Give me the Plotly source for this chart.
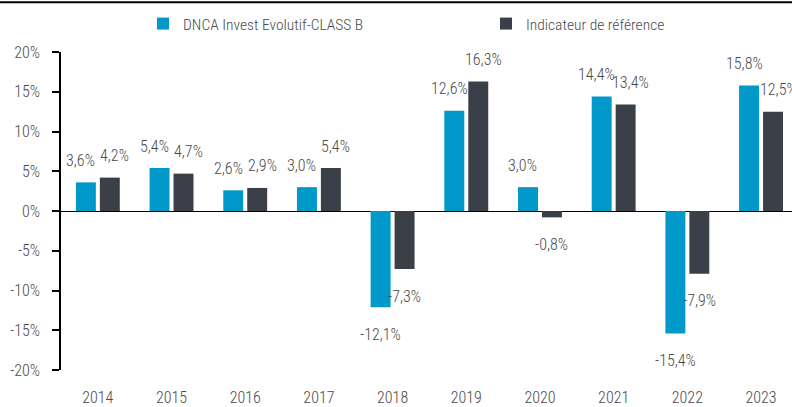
import plotly.graph_objects as go

years = ["2014", "2015", "2016", "2017", "2018", "2019", "2020", "2021", "2022", "2023"]
fund = [3.6, 5.4, 2.6, 3.0, -12.1, 12.6, 3.0, 14.4, -15.4, 15.8]
bench = [4.2, 4.7, 2.9, 5.4, -7.3, 16.3, -0.8, 13.4, -7.9, 12.5]
fund_name = "DNCA Invest Evolutif-CLASS B"
bench_name = "Indicateur de référence"
y_ticks = [-20, -15, -10, -5, 0, 5, 10, 15, 20]

CYAN = "#0099C9"
DARK = "#3B3F47"
TXT = "#4a4a4a"
FONT = "Roboto Condensed"
W = 300

fig = go.Figure()
fig.add_trace(go.Bar(x=years, y=fund, name=fund_name, marker=dict(color=CYAN, line=dict(width=0))))
fig.add_trace(go.Bar(x=years, y=bench, name=bench_name, marker=dict(color=DARK, line=dict(width=0))))

def fmt(v):
    return f"{v:.1f}%".replace(".", ",")

for series, side in ((fund, -1), (bench, 1)):
    for i, v in enumerate(series):
        pos = v >= 0
        fig.add_annotation(
            x=i, y=v, xref="x", yref="y", text=fmt(v), showarrow=False,
            xshift=side * 12 + (side * 5 if pos else 0),
            yshift=22 if pos else -27,
            font=dict(family=FONT, size=16, color=TXT, weight=W),
        )

fig.update_layout(
    width=792, height=407,
    margin=dict(l=61, r=0, t=52, b=35),
    paper_bgcolor="white", plot_bgcolor="white",
    barmode="group", bargap=0.35, bargroupgap=0.167,
    font=dict(family=FONT, size=16, color=TXT, weight=W),
    showlegend=True,
    legend=dict(orientation="h", xref="container", x=143/792, xanchor="left",
                yref="container", y=1 - 7/407, yanchor="top",
                font=dict(family=FONT, size=15.5, color=TXT, weight=W),
                entrywidth=298, entrywidthmode="pixels", itemwidth=30,
                traceorder="normal", bgcolor="rgba(0,0,0,0)"),
    shapes=[dict(type="line", xref="paper", yref="paper", x0=-61/731, x1=1,
                 y0=1 + 50/320, y1=1 + 50/320, line=dict(color="black", width=2))],
)
fig.update_xaxes(type="category", range=[-0.5, 9.42], showgrid=False, showline=False, ticks="",
                 ticklabelstandoff=16, tickfont=dict(family=FONT, size=16, color=TXT, weight=W))
fig.update_yaxes(range=[-20, 20], tickvals=y_ticks,
                 ticktext=[f"{t}%" for t in y_ticks], showgrid=False,
                 showline=True, linecolor="black", linewidth=1.5,
                 ticks="outside", ticklen=7, tickcolor="black", tickwidth=1.5,
                 ticklabelstandoff=9,
                 zeroline=True, zerolinecolor="black", zerolinewidth=1.2,
                 tickfont=dict(family=FONT, size=16, color=TXT, weight=W))

fig.write_html("out.html")
